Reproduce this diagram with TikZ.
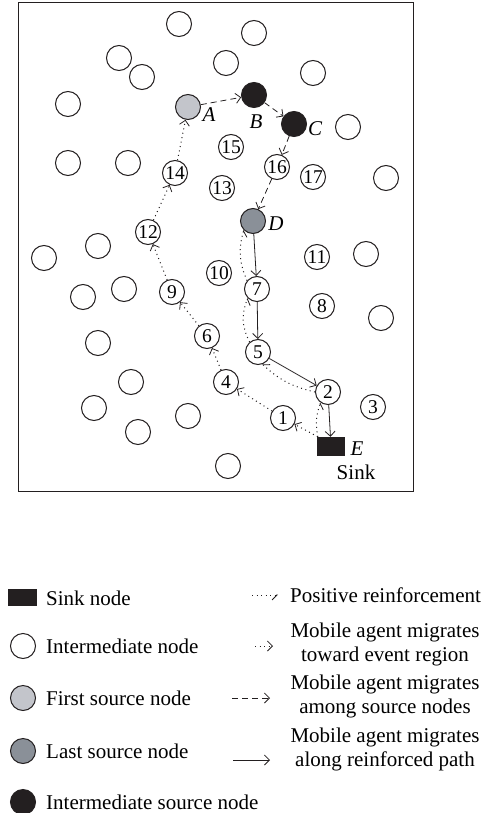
\documentclass[tikz,border=0pt]{standalone}
\usepackage{fontspec}
\setmainfont{Liberation Serif}
\usetikzlibrary{arrows.meta}
\definecolor{firstsrc}{HTML}{C3C5CB}
\definecolor{lastsrc}{HTML}{8A9098}
\definecolor{blk}{HTML}{231F20}
\tikzset{
  nd/.style={circle,draw=blk,line width=1pt,minimum size=25pt,inner sep=0pt,
    font=\fontsize{19.5}{19.5}\selectfont},
  firstnd/.style={nd,fill=firstsrc},
  lastnd/.style={nd,fill=lastsrc},
  srcnd/.style={nd,fill=blk},
  sinknd/.style={rectangle,fill=blk,draw=none,minimum width=28pt,minimum height=19pt,inner sep=0pt},
  lbl/.style={font=\fontsize{21}{21}\selectfont\itshape,inner sep=0pt},
  txt/.style={font=\fontsize{21}{24}\selectfont,inner sep=0pt},
  solidarr/.style={draw=blk,line width=0.8pt,-{Straight Barb[length=5pt,width=10pt]}},
  dasharr/.style={draw=blk,line width=0.8pt,dash pattern=on 6pt off 4pt,-{Straight Barb[length=5pt,width=10pt]}},
  towardarr/.style={draw=blk,line width=1pt,dash pattern=on 1pt off 3.5pt,-{Straight Barb[length=5pt,width=10pt,line width=0.8pt]}},
  reinfarr/.style={draw=blk,line width=1pt,dash pattern=on 1pt off 3.5pt,-{Straight Barb[harpoon,swap,length=5pt,width=10pt,line width=0.8pt]}},
}
\begin{document}
\begin{tikzpicture}[x=1pt,y=-1pt]
\useasboundingbox (0,0) rectangle (483,813);
\draw[line width=1pt,draw=blk] (18.5,3) rectangle (413,491);
% empty intermediate nodes
\foreach \p [count=\i] in {(179,24),(254,33),(119,58),(142,77),(226,63),(313,73),(68,104),(348,127),(68,163),(128,163),(386,178),(44,258),(98,246),(366,254),(124,289),(83,297),(381,318),(98,343),(131,382),(94,408),(188,416),(138,432),(228,466)}
  \node[nd] (e\i) at \p {};
% numbered nodes
\node[nd] (n1) at (283,418) {1};
\node[nd] (n2) at (328,392) {2};
\node[nd] (n3) at (373,407) {3};
\node[nd] (n4) at (226,382) {4};
\node[nd] (n5) at (258,352) {5};
\node[nd] (n6) at (207,336) {6};
\node[nd] (n7) at (257,289) {7};
\node[nd] (n8) at (322,306) {8};
\node[nd] (n9) at (172,292) {9};
\node[nd] (n10) at (219,273) {10};
\node[nd] (n11) at (317,257) {11};
\node[nd] (n12) at (148,232) {12};
\node[nd] (n13) at (222,188) {13};
\node[nd] (n14) at (175,173) {14};
\node[nd] (n15) at (231,147) {15};
\node[nd] (n16) at (277,167) {16};
\node[nd] (n17) at (313,177) {17};
% source nodes
\node[firstnd] (A) at (188,107) {};
\node[srcnd] (B) at (254,95) {};
\node[srcnd] (C) at (294,124) {};
\node[lastnd] (D) at (253,221) {};
\node[sinknd] (E) at (331,446.5) {};
\node[lbl] (lA) at (209,115) {A};
\node[lbl] (lB) at (256,122) {B};
\node[lbl] (lC) at (315,129) {C};
\node[lbl] (lD) at (276,224) {D};
\node[lbl] (lE) at (357,449) {E};
\node[txt] (lsink) at (356,472) {Sink};
% dashed: among source nodes
\draw[dasharr] (A) -- (B);
\draw[dasharr] (B) -- (C);
\draw[dasharr] (C) -- (n16);
\draw[dasharr] (n16) -- (D);
% solid: along reinforced path
\draw[solidarr] (D) -- (n7);
\draw[solidarr] (n7) -- (n5);
\draw[solidarr] (n5) -- (n2);
\draw[solidarr] (n2) -- (E);
% dotted: toward event region
\coordinate (Es) at ([xshift=1pt]E.north west);
\draw[towardarr] (Es) -- (n1);
\draw[towardarr] (n1) -- (n4);
\draw[towardarr] (n4) -- (n6);
\draw[towardarr] (n6) -- (n9);
\draw[towardarr] (n9) -- (n12);
\draw[towardarr] (n12) -- (n14);
\draw[towardarr] (n14) -- (A);
% dotted: positive reinforcement
\draw[reinfarr] (Es) to[bend left=15] (n2.235);
\draw[reinfarr] (n2.west) to[bend left=15] (n5.-70);
\draw[reinfarr] (n5.130) to[bend left=25] (n7.225);
\draw[reinfarr] (n7.140) to[bend left=20] (D.225);
% legend, left
\node[sinknd,minimum width=29pt,minimum height=17pt] (ksink) at (22.5,597.5) {};
\node[nd] (kint) at (23,646) {};
\node[firstnd] (kfirst) at (23,698) {};
\node[lastnd] (klast) at (23,751) {};
\node[srcnd] (ksrc) at (23,802) {};
\node[txt,anchor=west] (tsink) at (46,598) {Sink node};
\node[txt,anchor=west] (tint) at (46,646) {Intermediate node};
\node[txt,anchor=west] (tfirst) at (46,698) {First source node};
\node[txt,anchor=west] (tlast) at (46,751) {Last source node};
\node[txt,anchor=west] (tsrc) at (46,802) {Intermediate source node};
% legend, right
\coordinate (r1a) at (252,595); \coordinate (r1b) at (278,595);
\coordinate (r2a) at (255,646); \coordinate (r2b) at (273,646);
\coordinate (r3a) at (232,698); \coordinate (r3b) at (270,698);
\coordinate (r4a) at (233,760); \coordinate (r4b) at (270,760);
\draw[reinfarr] (r1a) -- (r1b);
\draw[towardarr] (r2a) -- (r2b);
\draw[dasharr] (r3a) -- (r3b);
\draw[solidarr] (r4a) -- (r4b);
\node[txt,anchor=west] (t1) at (290,595) {Positive reinforcement};
\node[txt,align=center] (t2) at (385,644.5) {Mobile agent migrates\\toward event region};
\node[txt,align=center] (t3) at (385,696.5) {Mobile agent migrates\\among source nodes};
\node[txt,align=center] (t4) at (385,749) {Mobile agent migrates\\along reinforced path};
\end{tikzpicture}
\end{document}
